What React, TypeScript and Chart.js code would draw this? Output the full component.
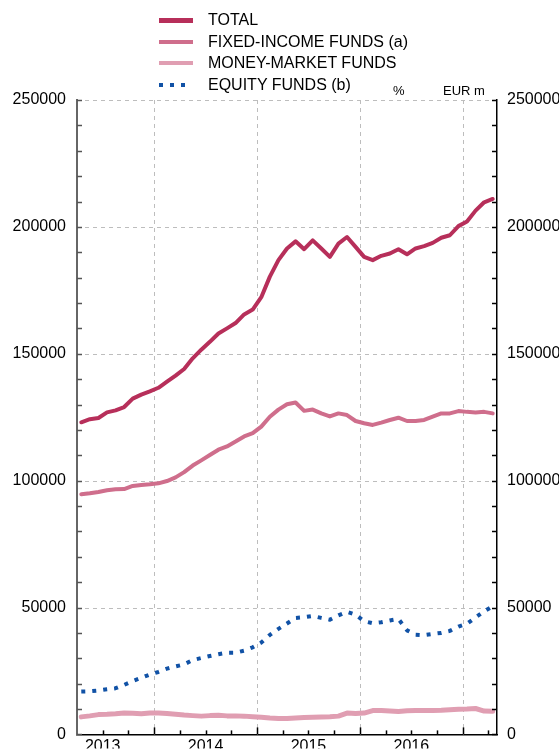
import React, { useEffect, useRef } from 'react';
import { Chart, registerables } from 'chart.js';

Chart.register(...registerables);

// Monthly observations, April 2013 – April 2017
const months = [
  '2013-04', '2013-05', '2013-06', '2013-07', '2013-08', '2013-09', '2013-10', '2013-11', '2013-12',
  '2014-01', '2014-02', '2014-03', '2014-04', '2014-05', '2014-06', '2014-07', '2014-08', '2014-09', '2014-10', '2014-11', '2014-12',
  '2015-01', '2015-02', '2015-03', '2015-04', '2015-05', '2015-06', '2015-07', '2015-08', '2015-09', '2015-10', '2015-11', '2015-12',
  '2016-01', '2016-02', '2016-03', '2016-04', '2016-05', '2016-06', '2016-07', '2016-08', '2016-09', '2016-10', '2016-11', '2016-12',
  '2017-01', '2017-02', '2017-03', '2017-04',
];

const total = [
  123000, 124200, 124700, 126900, 127700, 129000, 132300, 133900, 135200, 136600,
  139000, 141400, 144000, 148200, 151600, 154700, 158000, 160000, 162100, 165500,
  167400, 172300, 180400, 186900, 191500, 194300, 191200, 194700, 191500, 188200,
  193400, 196000, 192100, 188200, 186900, 188600, 189500, 191200, 189200, 191500,
  192400, 193700, 195700, 196700, 200300, 202100, 206400, 209700, 211000,
];

const fixedIncome = [
  94650, 95000, 95550, 96200, 96600, 96700, 97900, 98300, 98550, 98930,
  99840, 101270, 103350, 105950, 108000, 110100, 112200, 113500, 115400, 117400,
  118700, 121300, 125200, 128000, 130100, 130800, 127500, 128000, 126500, 125300,
  126500, 125850, 123500, 122600, 121950, 122850, 123900, 124800, 123500, 123500,
  123900, 125200, 126500, 126500, 127400, 127100, 126900, 127100, 126500,
];

const moneyMarket = [
  6900, 7300, 7800, 7900, 8100, 8400, 8300, 8100, 8400, 8400,
  8200, 7900, 7600, 7400, 7200, 7400, 7500, 7300, 7300, 7200,
  7000, 6800, 6500, 6300, 6250, 6500, 6700, 6800, 6900, 7000,
  7200, 8400, 8200, 8400, 9400, 9400, 9200, 9000, 9300, 9400,
  9400, 9400, 9500, 9700, 9900, 10000, 10200, 9200, 9100,
];

const equity = [
  16900, 17000, 17300, 17800, 18200, 19500, 21000, 22300, 23600, 24600,
  25900, 26800, 27600, 29300, 30100, 30900, 31600, 32200, 32200, 33000,
  34300, 36200, 39200, 41600, 43700, 45900, 46200, 46700, 45900, 45200,
  46900, 48300, 47200, 44600, 43800, 44200, 44900, 45500, 41000, 39300,
  39100, 39600, 40000, 40800, 42500, 43600, 46100, 48500, 50500,
];

const seriesNames = ['TOTAL', 'FIXED-INCOME FUNDS (a)', 'MONEY-MARKET FUNDS', 'EQUITY FUNDS (b)'];
const seriesColors = ['#B72F5A', '#CF6E8C', '#E09EB2', '#1152A6'];
const seriesValues = [total, fixedIncome, moneyMarket, equity];

const yMajorTicks = [0, 50000, 100000, 150000, 200000, 250000];
const yMinorStep = 10000;
const yearLabels = [2013, 2014, 2015, 2016];
const yearBoundaries = [2014, 2015, 2016, 2017];
const xMin = 2013.25;
const xMax = 2017 + 1 / 3;
const yMax = 250000;

const FONT = "'Liberation Sans', Arial, sans-serif";

function monthToYear(m: string): number {
  const [yy, mm] = m.split('-').map(Number);
  return yy + (mm - 0.5) / 12;
}

const framePlugin = {
  id: 'frame',
  beforeDatasetsDraw(chart: any) {
    const { ctx, chartArea: a, scales } = chart;
    const xs = scales.x;
    const ys = scales.y;
    ctx.save();
    ctx.strokeStyle = '#bdbdbd';
    ctx.lineWidth = 1;
    ctx.setLineDash([4, 4]);
    for (const v of yMajorTicks) {
      if (v === 0) continue;
      const py = Math.round(ys.getPixelForValue(v)) + 0.5;
      ctx.beginPath();
      ctx.moveTo(a.left, py);
      ctx.lineTo(a.right, py);
      ctx.stroke();
    }
    for (const yr of yearBoundaries) {
      const px = Math.round(xs.getPixelForValue(yr)) + 0.5;
      ctx.beginPath();
      ctx.moveTo(px, a.top);
      ctx.lineTo(px, a.bottom);
      ctx.stroke();
    }
    ctx.restore();
  },
  afterDatasetsDraw(chart: any) {
    const { ctx, chartArea: a, scales } = chart;
    const xs = scales.x;
    const ys = scales.y;
    ctx.save();
    ctx.setLineDash([]);
    ctx.lineWidth = 1.5;
    for (let v = 0; v <= yMax; v += yMinorStep) {
      const py = Math.round(ys.getPixelForValue(v)) + 0.5;
      ctx.strokeStyle = '#555';
      ctx.beginPath();
      ctx.moveTo(a.left, py);
      ctx.lineTo(a.left + 5, py);
      ctx.stroke();
      ctx.strokeStyle = '#000';
      ctx.beginPath();
      ctx.moveTo(a.right - 5, py);
      ctx.lineTo(a.right, py);
      ctx.stroke();
    }
    ctx.strokeStyle = '#000';
    for (let q = xMin + 0.25; q < xMax; q += 0.25) {
      const px = Math.round(xs.getPixelForValue(q)) + 0.5;
      const major = Math.abs(q - Math.round(q)) < 1e-6;
      ctx.beginPath();
      ctx.moveTo(px, a.bottom);
      ctx.lineTo(px, a.bottom - (major ? 7 : 4));
      ctx.stroke();
    }
    ctx.restore();
  },
};

export default function App() {
  const canvasRef = useRef<HTMLCanvasElement | null>(null);

  useEffect(() => {
    const canvas = canvasRef.current;
    if (!canvas) return;
    const xVals = months.map(monthToYear);
    const datasets = seriesValues.map((vals, i) => ({
      label: seriesNames[i],
      data: vals.map((v, j) => ({ x: xVals[j], y: v })),
      borderColor: seriesColors[i],
      backgroundColor: seriesColors[i],
      borderWidth: i === 2 ? 5 : 4,
      borderDash: i === 3 ? [4, 7] : [],
      borderCapStyle: i === 3 ? 'butt' : 'round',
      borderJoinStyle: 'round',
      pointRadius: 0,
      tension: 0,
      order: 4 - i,
    }));

    const yTicks = {
      stepSize: yMinorStep,
      autoSkip: false,
      color: '#000',
      font: { family: FONT, size: 16 },
      callback: (v: number) => (v % 50000 === 0 ? String(v) : ''),
    };

    const noGrid = { display: false, drawTicks: false, tickLength: 0 };

    const chart = new Chart(canvas, {
      type: 'line',
      data: { datasets: datasets as any },
      plugins: [framePlugin],
      options: {
        animation: false,
        responsive: false,
        devicePixelRatio: 1,
        layout: { padding: { top: 100, left: 0, right: 0, bottom: 0 } },
        plugins: { legend: { display: false }, tooltip: { enabled: false } },
        scales: {
          x: {
            type: 'linear',
            min: xMin,
            max: xMax,
            grid: noGrid,
            border: { display: true, color: '#000', width: 1.5 },
            afterBuildTicks: (scale: any) => {
              const t: any[] = [];
              for (let q = 2013.5; q < xMax; q += 0.5) t.push({ value: q });
              scale.ticks = t;
            },
            afterFit: (scale: any) => {
              scale.height = 14;
            },
            ticks: {
              autoSkip: false,
              maxRotation: 0,
              padding: 3,
              color: '#000',
              font: { family: FONT, size: 16 },
              callback: (v: number) => {
                const yr = Math.floor(v);
                return Math.abs(v - yr - 0.5) < 1e-6 && yearLabels.includes(yr) ? String(yr) : '';
              },
            },
          },
          y: {
            type: 'linear',
            position: 'left',
            min: 0,
            max: yMax,
            grid: noGrid,
            border: { display: true, color: '#666', width: 2 },
            afterFit: (scale: any) => {
              scale.width = 77;
            },
            ticks: { ...yTicks, padding: 11 },
          },
          y2: {
            type: 'linear',
            position: 'right',
            min: 0,
            max: yMax,
            grid: noGrid,
            border: { display: true, color: '#000', width: 1.5 },
            afterFit: (scale: any) => {
              scale.width = 62;
            },
            ticks: { ...yTicks, padding: 10 },
          },
        },
      } as any,
    });
    return () => chart.destroy();
  }, []);

  const legendTop = [20, 42, 63, 85];

  return (
    <div style={{ position: 'absolute', left: 0, top: 0, width: 559, height: 755, overflow: 'hidden', background: '#fff', fontFamily: FONT }}>
      <canvas ref={canvasRef} width={559} height={755} style={{ position: 'absolute', left: 0, top: 0, width: 559, height: 755 }} />
      {seriesNames.map((name, i) => (
        <div
          key={name}
          style={{ position: 'absolute', left: 159, top: legendTop[i] - 11, height: 22, display: 'flex', alignItems: 'center', whiteSpace: 'nowrap' }}
        >
          <div
            style={{
              width: i === 3 ? 30 : 34,
              height: i === 0 ? 5 : 4,
              background:
                i === 3
                  ? `repeating-linear-gradient(90deg, ${seriesColors[i]} 0px, ${seriesColors[i]} 4px, transparent 4px, transparent 11px)`
                  : seriesColors[i],
              marginRight: i === 3 ? 19 : 15,
            }}
          />
          <span style={{ fontSize: 16, color: '#000' }}>{name}</span>
        </div>
      ))}
      <div style={{ position: 'absolute', left: 393, top: 83, fontSize: 13, color: '#000' }}>%</div>
      <div style={{ position: 'absolute', left: 443, top: 83, fontSize: 13, color: '#000' }}>EUR m</div>
    </div>
  );
}
